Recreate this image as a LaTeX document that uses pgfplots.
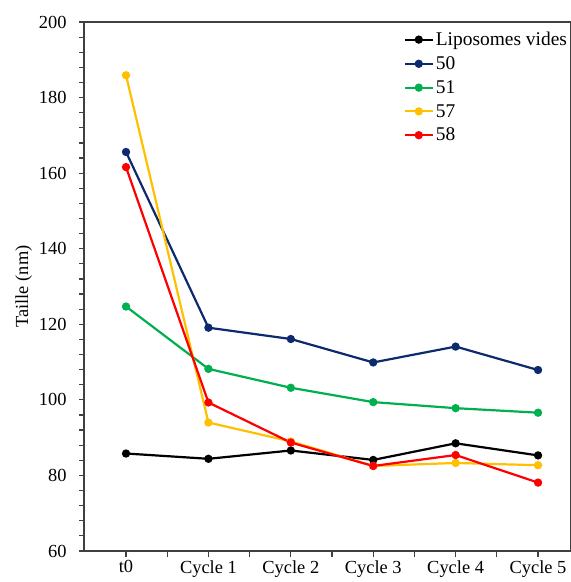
\documentclass[border=0pt]{standalone}
\usepackage{fontspec}
\setmainfont{Liberation Serif}
\usepackage{pgfplots}
\pgfplotsset{compat=1.18}
\definecolor{cnavy}{HTML}{0D2A6E}
\definecolor{cgreen}{HTML}{00B050}
\definecolor{cyellow}{HTML}{FFC000}
\definecolor{cred}{HTML}{FF0000}
\definecolor{axc}{HTML}{404040}
\newcommand{\fs}{\fontsize{18.5}{22}\selectfont}
\newcommand{\fl}{\fontsize{19.5}{23}\selectfont}
\pgfplotsset{ser/.style={color=#1, line width=2.2bp, mark=*, mark size=3bp, mark options={solid, fill=#1}}}
\begin{document}
\begin{tikzpicture}
\begin{axis}[
  scale only axis,
  width=487bp, height=529bp,
  xmin=-0.51, xmax=5.40,
  ymin=60, ymax=200,
  clip=false,
  xtick={0,1,2,3,4,5},
  xticklabels={t0,Cycle 1,Cycle 2,Cycle 3,Cycle 4,Cycle 5},
  ytick={60,80,...,200},
  tick align=outside,
  tick pos=left,
  major tick length=6bp,
  every major tick/.append style={draw=none},
  every minor tick/.append style={draw=none},
  axis line style={line width=1.4bp, draw=axc},
  /pgf/number format/assume math mode=true,
  tick label style={font=\fs},
  yticklabel style={xshift=-8bp},
  ylabel={Taille (nm)},
  ylabel style={font=\fs},
  ylabel shift=0bp,
  legend style={draw=none, fill=none, font=\fl, at={(rel axis cs:0.656,0.985)}, anchor=north west, row sep=5.5bp, inner sep=0pt},
  legend cell align=left,
  legend image code/.code={\draw[#1, mark repeat=2,mark phase=2] plot coordinates {(0bp,0bp)(14bp,0bp)(28bp,0bp)};},
]
\pgfplotsinvokeforeach{60,64,...,200}{
  \draw[line width=1.2bp, axc] (axis cs:-0.51,#1) -- ([xshift=-5bp]axis cs:-0.51,#1);
}
\pgfplotsinvokeforeach{0,0.5,...,5}{
  \draw[line width=1.2bp, axc] (axis cs:#1,60) -- ([yshift=-6bp]axis cs:#1,60);
}
\addplot[ser=black] coordinates {(0,85.8)(1,84.4)(2,86.6)(3,84.1)(4,88.5)(5,85.3)};
\addlegendentry{Liposomes vides}
\addplot[ser=cnavy] coordinates {(0,165.6)(1,119.1)(2,116.1)(3,109.9)(4,114.1)(5,107.9)};
\addlegendentry{50}
\addplot[ser=cgreen] coordinates {(0,124.7)(1,108.2)(2,103.2)(3,99.4)(4,97.8)(5,96.6)};
\addlegendentry{51}
\addplot[ser=cyellow] coordinates {(0,185.9)(1,94.0)(2,89.0)(3,82.5)(4,83.3)(5,82.7)};
\addlegendentry{57}
\addplot[ser=cred] coordinates {(0,161.6)(1,99.3)(2,88.7)(3,82.5)(4,85.4)(5,78.1)};
\addlegendentry{58}
\end{axis}
\pgfresetboundingbox
\path (current axis.south west) ++(-84bp,-31bp) coordinate (bl);
\path (current axis.north east) ++(-1bp,22bp) coordinate (tr);
\path (bl) rectangle (tr);
\end{tikzpicture}
\end{document}
